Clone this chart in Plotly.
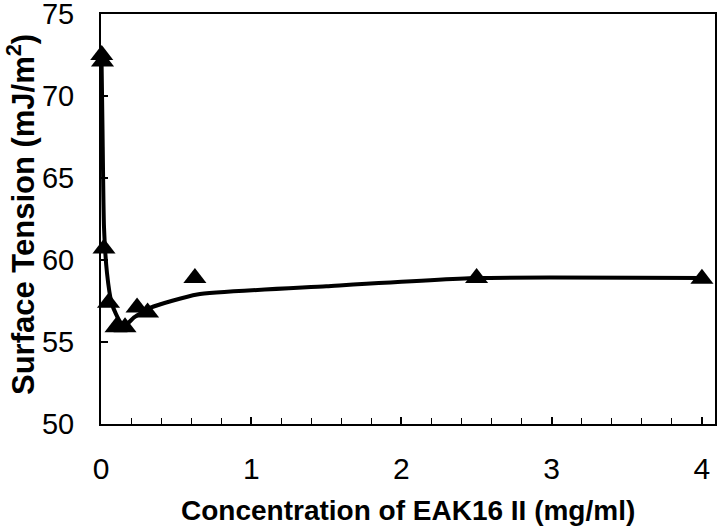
import plotly.graph_objects as go

# measured points
conc = [0.005, 0.01, 0.02, 0.05, 0.10, 0.16, 0.24, 0.31, 0.625, 2.5, 4.0]
tension = [72.5, 72.1, 60.7, 57.4, 55.9, 55.9, 57.1, 56.8, 58.9, 58.9, 58.85]

# smoothed curve drawn through the data
fit_x = [0.003, 0.01, 0.02, 0.04, 0.07, 0.10, 0.13, 0.16, 0.22, 0.33, 0.64, 1.5, 2.5, 4.0]
fit_y = [72.6, 68.0, 62.0, 59.2, 57.4, 56.7, 56.2, 56.0, 56.5, 57.1, 57.9, 58.4, 58.9, 58.9]

x_title = "<b>Concentration of EAK16 II (mg/ml)</b>"
y_title = "<b>Surface Tension (mJ/m<sup>2</sup>)</b>"

fig = go.Figure()
fig.add_trace(go.Scatter(x=fit_x, y=fit_y, mode="lines",
                         line=dict(color="black", width=4, shape="spline", smoothing=0.5),
                         showlegend=False, cliponaxis=False))
fig.add_trace(go.Scatter(x=conc, y=tension, mode="markers",
                         marker=dict(symbol="triangle-up", size=20, color="black"),
                         showlegend=False, cliponaxis=False))

font_fam = "Liberation Sans, Arial, sans-serif"
fig.update_layout(
    width=720, height=527,
    margin=dict(l=101, r=5, t=14, b=103),
    paper_bgcolor="white", plot_bgcolor="white",
    font=dict(family=font_fam, color="black", size=30),
    xaxis=dict(range=[0, 4.087], dtick=1, tick0=0, ticks="inside", ticklen=7, tickwidth=1.5,
               tickcolor="black", showline=True, linecolor="black", linewidth=2, mirror=True,
               showgrid=False, zeroline=False, automargin=False, ticklabelstandoff=17,
               ticklabeloverflow="allow",
               minor=dict(dtick=0.2, ticks="inside", ticklen=6, tickcolor="black", tickwidth=1.2),
               tickfont=dict(size=30)),
    yaxis=dict(range=[50, 75], dtick=5, ticks="inside", ticklen=7, tickwidth=1.5, tickcolor="black",
               showline=True, linecolor="black", linewidth=2, mirror=True,
               showgrid=False, zeroline=False, automargin=False, ticklabelstandoff=19,
               ticklabeloverflow="allow",
               tickfont=dict(size=29)),
    annotations=[
        dict(text=x_title, xref="paper", yref="paper", x=0.5, y=-0.212,
             xanchor="center", yanchor="middle", showarrow=False, font=dict(size=28)),
        dict(text=y_title, xref="paper", yref="paper", x=(21 - 101) / 614, y=(424 - 215) / 410,
             xanchor="center", yanchor="middle", showarrow=False, textangle=-90, font=dict(size=31)),
    ],
)
fig.write_html("out.html", config={"displayModeBar": False},
               post_script="document.body.style.margin='0';")
